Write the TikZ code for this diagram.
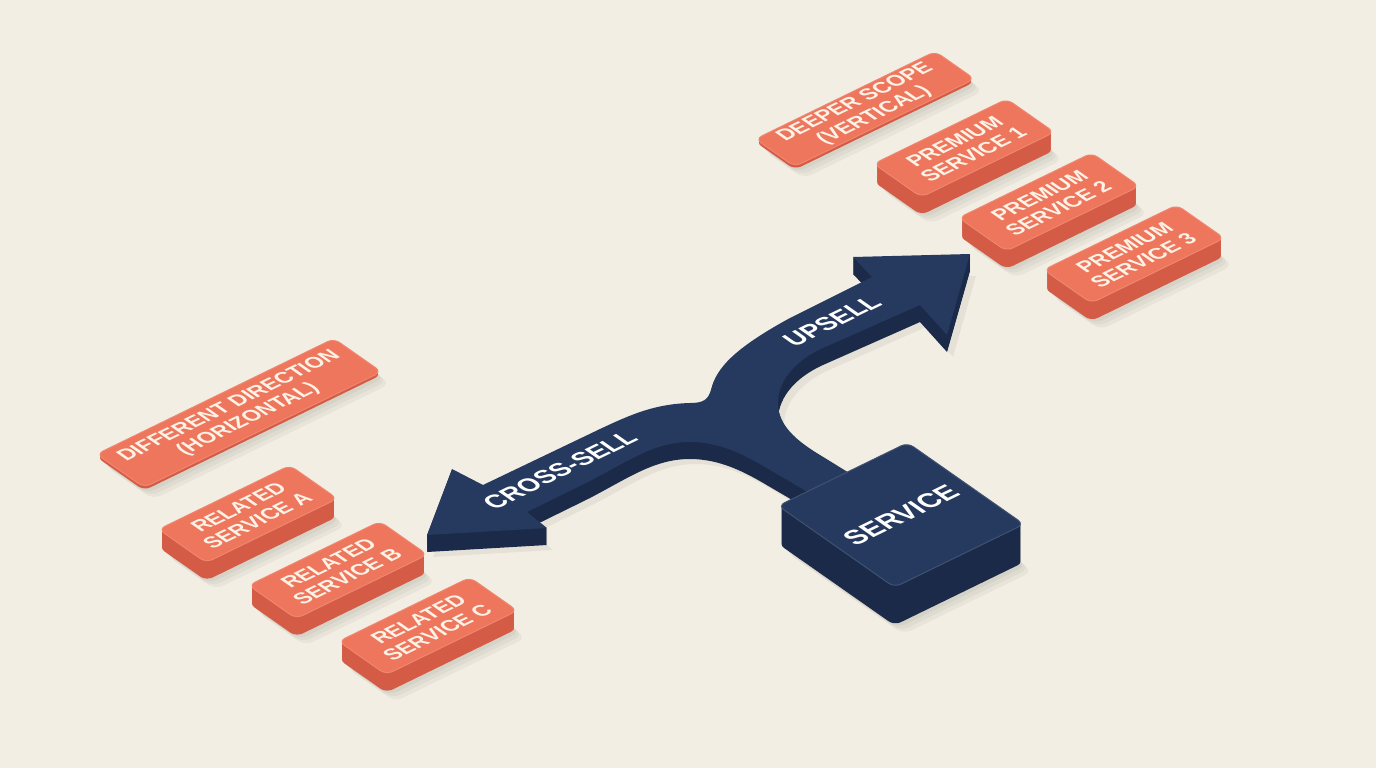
\documentclass[tikz,border=0pt]{standalone}
\usepackage{fontspec}
\setmainfont{Liberation Sans}
\usetikzlibrary{positioning}

\definecolor{paper}{HTML}{F2EEE3}
\definecolor{coral}{HTML}{EE765D}
\definecolor{coralside}{HTML}{D45C46}
\definecolor{navy}{HTML}{263A5F}
\definecolor{navyside}{HTML}{1A2A48}
\definecolor{cream}{HTML}{FCF2E6}

\tikzset{
  iso/.style={cm={0.899,0.438,-0.819,0.574,(0,0)}},
  tag/.style={text=cream, font=\bfseries\fontsize{21}{23}\selectfont, align=center, inner sep=0pt},
  bigtag/.style={text=white, font=\bfseries\fontsize{27}{29}\selectfont, inner sep=0pt},
  forktag/.style={text=white, font=\bfseries\fontsize{25}{27}\selectfont, inner sep=0pt}
}

% #1 node, #2/#3 centre in px, #4/#5 half length/width, #6 depth, #7 colour, #8 node style, #9 text
\newcommand\isobox[9]{%
  \begin{scope}[shift={(#2,-#3)}]
    \foreach \s in {3,6,9}
      \fill[black, opacity=0.04, xshift=\s pt, yshift=-#6pt-\s pt, iso, rounded corners=9pt]
        (-#4,-#5) -- (#4,-#5) -- (#4,#5) -- (-#4,#5) -- cycle;
    \foreach \k in {1,...,#6}
      \fill[#7side, yshift=-\k pt, iso, rounded corners=7pt]
        (-#4,-#5) -- (#4,-#5) -- (#4,#5) -- (-#4,#5) -- cycle;
    \filldraw[fill=#7, draw=#7!88!white, line width=1pt, iso, rounded corners=7pt]
      (-#4,-#5) -- (#4,-#5) -- (#4,#5) -- (-#4,#5) -- cycle;
    \begin{scope}[iso]
      \node[transform shape, #8] (#1) at (0,0) {#9};
    \end{scope}
  \end{scope}}

% outline of the forked arrow, px with y down
\def\forkpath{(427,-535) -- (452,-469) -- (483,-485) -- (600,-429)
  .. controls (632,-414) and (655,-404) .. (690,-403)
  .. controls (703,-403) and (708,-400) .. (711,-390)
  .. controls (716,-368) and (735,-348) .. (790,-318)
  -- (872,-277) -- (853,-257) -- (970,-254) -- (947,-335) -- (920,-305)
  -- (823,-348) .. controls (792,-362) and (777,-384) .. (778,-405)
  .. controls (779,-425) and (795,-440) .. (820,-455)
  -- (880,-492) -- (835,-508) -- (770,-470)
  .. controls (745,-455) and (720,-442) .. (690,-442)
  .. controls (655,-442) and (630,-460) .. (590,-481)
  -- (527,-512) -- (547,-528) -- cycle}

\begin{document}
\begin{tikzpicture}[x=1pt, y=1pt]
  \fill[paper] (0,0) rectangle (1376,-768);
  \useasboundingbox (0,0) rectangle (1376,-768);

  % headings
  \isobox{vert}{865}{109}{100}{24}{3}{coral}{tag}{DEEPER SCOPE\\(VERTICAL)}
  \isobox{horiz}{239}{413}{132}{29}{3}{coral}{tag}{DIFFERENT DIRECTION\\(HORIZONTAL)}

  % upsell targets
  \isobox{prem1}{964}{148}{74}{29}{18}{coral}{tag}{PREMIUM\\SERVICE 1}
  \isobox{prem2}{1049}{202}{74}{29}{18}{coral}{tag}{PREMIUM\\SERVICE 2}
  \isobox{prem3}{1134}{254}{74}{29}{18}{coral}{tag}{PREMIUM\\SERVICE 3}

  % cross-sell targets
  \isobox{relA}{248}{514}{73}{29}{18}{coral}{tag}{RELATED\\SERVICE A}
  \isobox{relB}{338}{570}{73}{29}{18}{coral}{tag}{RELATED\\SERVICE B}
  \isobox{relC}{428}{626}{73}{29}{18}{coral}{tag}{RELATED\\SERVICE C}

  % the fork
  \fill[black, opacity=0.05, xshift=6pt, yshift=-22pt] \forkpath;
  \foreach \k in {1,...,17}
    \fill[navyside, yshift=-\k pt] \forkpath;
  \fill[navy] \forkpath;

  \isobox{svc}{901}{515}{72}{71}{38}{navy}{bigtag}{SERVICE}

  \begin{scope}[shift={(560,-470)}, iso]
    \node[transform shape, forktag] (cross) at (0,0) {CROSS-SELL};
  \end{scope}
  \begin{scope}[shift={(832,-321)}, iso]
    \node[transform shape, forktag] (up) at (0,0) {UPSELL};
  \end{scope}
\end{tikzpicture}
\end{document}
